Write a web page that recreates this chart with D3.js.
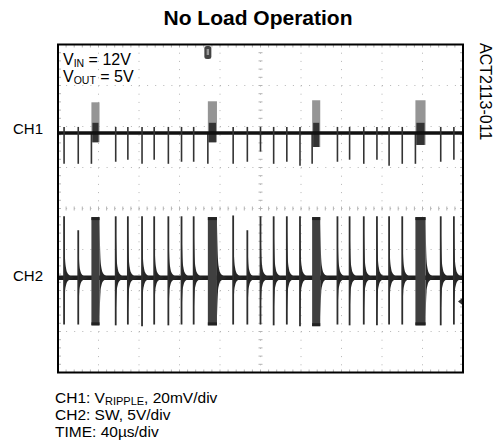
<!DOCTYPE html>
<meta charset="utf-8">
<html>
<head>
<style>
  body { margin: 0; background: #fff; }
  text { font-family: "Liberation Sans", Arial, sans-serif; fill: #000; }
</style>
</head>
<body>
<svg width="498" height="443" id="chart"></svg>
<script src="https://d3js.org/d3.v7.min.js"></script>
<script>
// time of the single switching pulses (us) and the pulse bursts
var spikeTimes = [6, 20, 57, 69, 83, 95, 109, 122, 134, 173, 187, 200, 213, 226, 239, 276, 288, 302, 315, 327, 340, 378, 391];
var ch1SpikeMin = [-15, -15, -14, -13, -15, -13, -15, -14, -14, -15, -14, -9, -15, -14, -16, -14, -13, -15, -13, -16, -15, -14, -13];
var ch2SpikeMax = [7.5, 5.8, 7.5, 7.5, 7.5, 7.5, 7.5, 7.5, 7.5, 7.6, 5.8, 7.5, 7.5, 7.5, 7.5, 7.5, 7.5, 7.5, 7.5, 7.5, 7.5, 7.5, 7.5];
var ch2SpikeMin = [-5.7, -5.7, -5.8, -5.7, -5.9, -5.7, -5.8, -5.7, -5.7, -5.7, -5.7, -5.7, -5.8, -5.7, -5.9, -5.7, -5.8, -5.7, -5.8, -5.7, -5.7, -5.8, -5.7];

var burstStart = [33, 148, 251, 353];
var burstEnd = [41, 157, 259, 363];
var ch1BurstMax = [15, 15.5, 16, 16];
var ch1BurstMin = [-4.5, -4.5, -6.8, -5.8];
var ch2BurstMax = [7.4, 7.4, 7.4, 7.4];
var ch2BurstMin = [-5.8, -5.8, -5.9, -5.8];

// ringing tail after each pulse (us after edge, fraction of pulse height)
var tailDt = [0, 1, 2, 3, 5, 8, 10];
var tailFrac = [1, 0.33, 0.17, 0.1, 0.05, 0.02, 0];

var ch1Offset = 1.84, ch2Offset = -1.69; // divisions from screen centre
var ch1PerDiv = 20, ch2PerDiv = 5;       // mV/div, V/div
var notes = ["CH1: V", "CH2: SW, 5V/div", "TIME: 40\u00b5s/div"];

var svg = d3.select("svg");
var x = d3.scaleLinear().domain([0, 400]).range([58, 463]);
var y = d3.scaleLinear().domain([-4, 4]).range([372.5, 44.5]);
function y1(mv) { return y(ch1Offset + mv / ch1PerDiv); }
function y2(v) { return y(ch2Offset + v / ch2PerDiv); }

svg.append("text").attr("x", 258).attr("y", 25).attr("text-anchor", "middle")
    .style("font-size", "21px").style("font-weight", "bold").text("No Load Operation");

var g = svg.append("g");

/* graticule */
var grid = g.append("g").attr("stroke", "#b5b5b5").attr("stroke-width", 1);
d3.range(1, 10).forEach(function (i) {
    grid.append("line").attr("x1", x(i * 40)).attr("x2", x(i * 40))
        .attr("y1", y(4)).attr("y2", y(-4)).attr("stroke-dasharray", "1,7.2");
});
d3.range(-3, 4).forEach(function (i) {
    grid.append("line").attr("x1", x(0)).attr("x2", x(400))
        .attr("y1", y(i)).attr("y2", y(i)).attr("stroke-dasharray", "1,7.1");
});
d3.range(0, 401, 8).forEach(function (t) {
    grid.append("line").attr("x1", x(t)).attr("x2", x(t)).attr("y1", y(0) - 2).attr("y2", y(0) + 2);
    grid.append("line").attr("x1", x(t)).attr("x2", x(t)).attr("y1", y(4)).attr("y2", y(4) + 3);
    grid.append("line").attr("x1", x(t)).attr("x2", x(t)).attr("y1", y(-4)).attr("y2", y(-4) - 3);
});
d3.range(-4, 4.01, 0.2).forEach(function (d) {
    grid.append("line").attr("x1", x(200) - 2).attr("x2", x(200) + 2).attr("y1", y(d)).attr("y2", y(d));
    grid.append("line").attr("x1", x(0)).attr("x2", x(0) + 3).attr("y1", y(d)).attr("y2", y(d));
    grid.append("line").attr("x1", x(400)).attr("x2", x(400) - 3).attr("y1", y(d)).attr("y2", y(d));
});

/* CH2 : switch node */
var tail = d3.area().curve(d3.curveMonotoneX)
    .x(function (d) { return x(d.t); })
    .y0(function (d) { return y2(d.lo); })
    .y1(function (d) { return y2(d.hi); });
function tailPts(t0, hi, lo) {
    return tailDt.map(function (dt, i) { return { t: t0 + dt, hi: hi * tailFrac[i], lo: lo * tailFrac[i] }; });
}
var c2 = g.append("g");
c2.append("line").attr("x1", x(0)).attr("x2", x(400)).attr("y1", y2(0)).attr("y2", y2(0))
    .attr("stroke", "#1e1e1e").attr("stroke-width", 4.5);
spikeTimes.forEach(function (t, i) {
    c2.append("path").attr("d", tail(tailPts(t, ch2SpikeMax[i] * 0.9, ch2SpikeMin[i] * 0.9))).attr("fill", "#262626");
    c2.append("line").attr("x1", x(t)).attr("x2", x(t)).attr("y1", y2(ch2SpikeMax[i])).attr("y2", y2(ch2SpikeMin[i]))
        .attr("stroke", "#2e2e2e").attr("stroke-width", 1.8);
});
burstStart.forEach(function (t, i) {
    var e = burstEnd[i];
    c2.append("path").attr("d", tail(tailPts(e, ch2BurstMax[i] * 0.9, ch2BurstMin[i] * 0.9))).attr("fill", "#262626");
    c2.append("rect").attr("x", x(t)).attr("width", x(e) - x(t))
        .attr("y", y2(ch2BurstMax[i])).attr("height", y2(ch2BurstMin[i]) - y2(ch2BurstMax[i]))
        .attr("fill", "#404040");
    c2.append("rect").attr("x", x(t)).attr("width", x(e) - x(t))
        .attr("y", y2(ch2BurstMax[i])).attr("height", 3).attr("fill", "#222");
    c2.append("rect").attr("x", x(t)).attr("width", x(e) - x(t))
        .attr("y", y2(ch2BurstMin[i]) - 3).attr("height", 3).attr("fill", "#222");
});

/* CH1 : output ripple */
var c1 = g.append("g");
burstStart.forEach(function (t, i) {
    var e = burstEnd[i];
    c1.append("rect").attr("x", x(t)).attr("width", x(e) - x(t))
        .attr("y", y1(ch1BurstMax[i])).attr("height", y1(ch1BurstMin[i]) - y1(ch1BurstMax[i]))
        .attr("fill", "#959595");
    c1.append("rect").attr("x", x(t) + 1).attr("width", x(e) - x(t) - 2)
        .attr("y", y1(5)).attr("height", y1(ch1BurstMin[i]) - y1(5))
        .attr("fill", "#333");
    c1.append("line").attr("x1", x(t)).attr("x2", x(t)).attr("y1", y1(0)).attr("y2", y1(-15))
        .attr("stroke", "#333").attr("stroke-width", 1.6);
});
c1.append("line").attr("x1", x(0)).attr("x2", x(400)).attr("y1", y1(0)).attr("y2", y1(0))
    .attr("stroke", "#111").attr("stroke-width", 3.5);
spikeTimes.forEach(function (t, i) {
    c1.append("line").attr("x1", x(t)).attr("x2", x(t)).attr("y1", y1(3)).attr("y2", y1(ch1SpikeMin[i]))
        .attr("stroke", "#333").attr("stroke-width", 1.6);
});

/* trigger markers */
var tx = x(148);
g.append("rect").attr("x", tx - 3.5).attr("y", 46).attr("width", 7).attr("height", 13).attr("rx", 2.5).attr("fill", "#444");
g.append("rect").attr("x", tx - 1.2).attr("y", 49).attr("width", 2.4).attr("height", 6).attr("fill", "#999");
g.append("path").attr("d", "M" + (x(400) - 5) + "," + y2(-2.9) + "l5,-4v8z").attr("fill", "#333");

/* frame */
g.append("rect").attr("x", x(0)).attr("y", y(4)).attr("width", x(400) - x(0)).attr("height", y(-4) - y(4))
    .attr("fill", "none").attr("stroke", "#000").attr("stroke-width", 2);

/* labels */
svg.append("text").attr("x", 13).attr("y", 134).style("font-size", "15px").text("CH1");
svg.append("text").attr("x", 13).attr("y", 281).style("font-size", "15px").text("CH2");

var vin = svg.append("text").attr("x", 63).attr("y", 65).style("font-size", "16px");
vin.append("tspan").text("V");
vin.append("tspan").attr("dy", 2).style("font-size", "10.5px").text("IN");
vin.append("tspan").attr("dy", -2).text(" = 12V");
var vout = svg.append("text").attr("x", 63).attr("y", 82).style("font-size", "16px");
vout.append("tspan").text("V");
vout.append("tspan").attr("dy", 2).style("font-size", "10.5px").text("OUT");
vout.append("tspan").attr("dy", -2).text(" = 5V");

svg.append("text").attr("transform", "translate(480,43) rotate(90)")
    .style("font-size", "16px").text("ACT2113-011");

var n1 = svg.append("text").attr("x", 55).attr("y", 403).style("font-size", "15.5px");
n1.append("tspan").text(notes[0]);
n1.append("tspan").attr("dy", 2).style("font-size", "11px").text("RIPPLE");
n1.append("tspan").attr("dy", -2).text(", 20mV/div");
svg.append("text").attr("x", 55).attr("y", 420).style("font-size", "15.5px").text(notes[1]);
svg.append("text").attr("x", 55).attr("y", 437).style("font-size", "15.5px").text(notes[2]);
</script>
</body>
</html>
